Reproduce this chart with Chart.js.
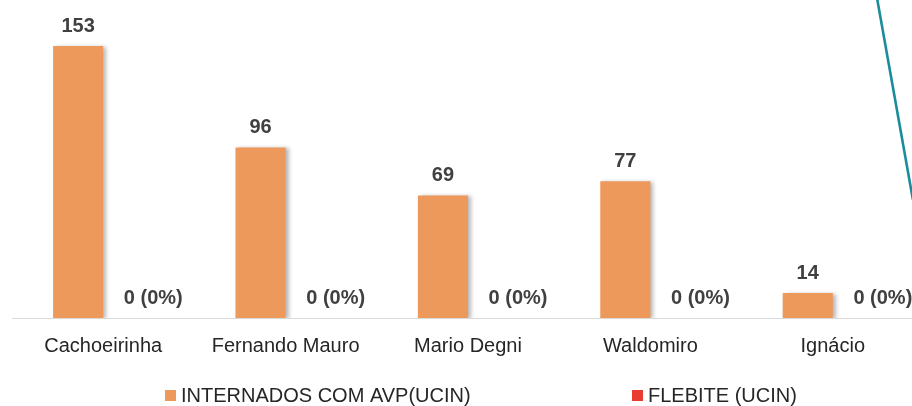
<!DOCTYPE html>
<html>
<head>
<meta charset="utf-8">
<script src="https://cdn.jsdelivr.net/npm/chart.js@4.4.1/dist/chart.umd.min.js"></script>
<style>
  html, body { margin: 0; padding: 0; background: #fff; overflow: hidden; }
  #wrap { position: relative; width: 912px; height: 406px; overflow: hidden; }
  #chart { position: absolute; left: 0; top: 0; }
  #deco { position: absolute; left: 0; top: 0; pointer-events: none; }
</style>
</head>
<body>
<div id="wrap">
  <canvas id="chart" width="930" height="406"></canvas>
  <!-- slide decoration, not chart data -->
  <svg id="deco" width="912" height="406"><line x1="877" y1="-2" x2="913" y2="200" stroke="#1B8C9B" stroke-width="2.6"/></svg>
</div>
<script>
const categories = ["Cachoeirinha", "Fernando Mauro", "Mario Degni", "Waldomiro", "Ignácio"];
const internados = [153, 96, 69, 77, 14];
const flebite = [0, 0, 0, 0, 0];
const flebitePct = ["0%", "0%", "0%", "0%", "0%"];
const seriesNames = ["INTERNADOS COM AVP(UCIN)", "FLEBITE (UCIN)"];
const seriesColors = ["#EE995C", "#EA3B30"];

const FONT = "'Liberation Sans', Arial, sans-serif";

// soft shadow on the bars, like the office chart
const barShadow = {
    id: "barShadow",
    beforeDatasetsDraw(chart) {
        const ctx = chart.ctx;
        ctx.save();
        ctx.shadowColor = "rgba(0,0,0,0.28)";
        ctx.shadowBlur = 4;
        ctx.shadowOffsetX = 3;
        ctx.shadowOffsetY = 1;
    },
    afterDatasetsDraw(chart) {
        chart.ctx.restore();
    }
};

const valueLabels = {
    id: "valueLabels",
    afterDatasetsDraw(chart) {
        const ctx = chart.ctx;
        ctx.save();
        ctx.font = "bold 20px " + FONT;
        ctx.fillStyle = "#404040";
        ctx.textAlign = "center";
        ctx.textBaseline = "alphabetic";
        chart.data.datasets.forEach((ds, i) => {
            const meta = chart.getDatasetMeta(i);
            meta.data.forEach((bar, j) => {
                if (i === 0) {
                    ctx.fillText(String(ds.data[j]), bar.x, bar.y - 14);
                } else {
                    ctx.fillText(ds.data[j] + " (" + flebitePct[j] + ")", bar.x + 25, bar.y - 14);
                }
            });
        });
        ctx.restore();
    }
};

const bottomLegend = {
    id: "bottomLegend",
    afterDraw(chart) {
        const ctx = chart.ctx;
        const spots = [165, 632];
        ctx.save();
        ctx.font = "20px " + FONT;
        ctx.textBaseline = "middle";
        ctx.textAlign = "left";
        chart.data.datasets.forEach((ds, i) => {
            ctx.fillStyle = ds.backgroundColor;
            ctx.fillRect(spots[i], 390, 11, 11);
            ctx.fillStyle = "#262626";
            ctx.fillText(ds.label, spots[i] + 16, 396);
        });
        ctx.restore();
    }
};

new Chart(document.getElementById("chart"), {
    type: "bar",
    data: {
        labels: categories,
        datasets: [
            { label: seriesNames[0], data: internados, backgroundColor: seriesColors[0],
              barPercentage: 1, categoryPercentage: 100 / 182 },
            { label: seriesNames[1], data: flebite, backgroundColor: seriesColors[1],
              barPercentage: 1, categoryPercentage: 100 / 182 }
        ]
    },
    options: {
        responsive: false,
        animation: false,
        layout: { padding: { left: 12, right: 6, top: 7, bottom: 32 } },
        plugins: {
            legend: { display: false },
            tooltip: { enabled: false }
        },
        scales: {
            x: {
                grid: { display: false, drawTicks: false },
                border: { display: true, color: "#D9D9D9", width: 1 },
                ticks: { color: "#262626", font: { family: FONT, size: 20 }, padding: 16,
                         maxRotation: 0, autoSkip: false }
            },
            y: { display: false, min: 0, max: 175 }
        }
    },
    plugins: [barShadow, valueLabels, bottomLegend]
});
</script>
</body>
</html>
